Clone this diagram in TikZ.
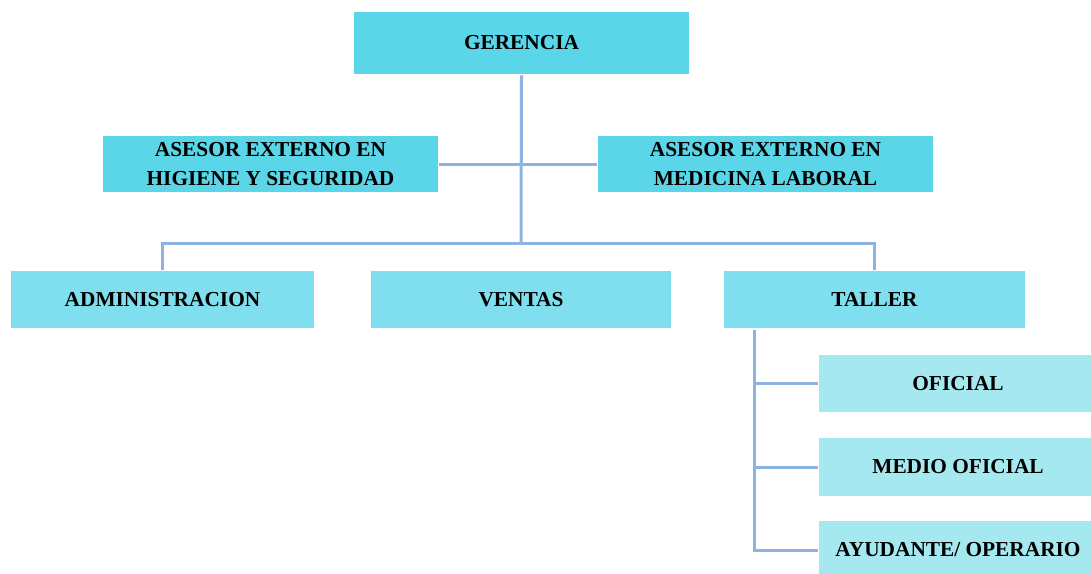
\documentclass[tikz,border=0pt]{standalone}
\usepackage{fontspec}
\setmainfont{Liberation Serif}
\usetikzlibrary{positioning}
\definecolor{topcyan}{HTML}{5BD5E8}
\definecolor{midcyan}{HTML}{80DFEE}
\definecolor{lowcyan}{HTML}{A6E8F0}
\definecolor{linkblue}{HTML}{8DB3E2}
\tikzset{
  orgbox/.style= {
    rectangle,
    draw = black!15,
    double = white,
    double distance = 1.2pt,
    fill = #1,
    align = center,
    font = \fontsize{16}{22}\selectfont\bfseries,
    inner sep = 0pt
  },
  link/.style= {
    draw = linkblue,
    line width = 2.25pt
  }
}

\begin{document}
\begin{tikzpicture}[x=0.75pt,y=-0.75pt]
  \useasboundingbox (0,0) rectangle (1091,574);

  \node[orgbox=topcyan,minimum width={337*0.75pt},minimum height={64*0.75pt}] (ger) at (521.5,43) {GERENCIA};

  \node[orgbox=topcyan,minimum width={337*0.75pt},minimum height={58*0.75pt}] (asl) at (270.5,164) {ASESOR EXTERNO EN\\HIGIENE Y SEGURIDAD};
  \node[orgbox=topcyan,minimum width={337*0.75pt},minimum height={58*0.75pt}] (asr) at (765.5,164) {ASESOR EXTERNO EN\\MEDICINA LABORAL};

  \node[orgbox=midcyan,minimum width={305*0.75pt},minimum height={59*0.75pt}] (adm) at (162.5,299.5) {ADMINISTRACION};
  \node[orgbox=midcyan,minimum width={302*0.75pt},minimum height={59*0.75pt}] (ven) at (521,299.5) {VENTAS};
  \node[orgbox=midcyan,minimum width={303*0.75pt},minimum height={59*0.75pt}] (tal) at (874.5,299.5) {TALLER};

  \node[orgbox=lowcyan,minimum width={280*0.75pt},minimum height={59*0.75pt}] (ofi) at (958,383.5) {OFICIAL};
  \node[orgbox=lowcyan,minimum width={280*0.75pt},minimum height={60*0.75pt}] (med) at (958,467) {MEDIO OFICIAL};
  \node[orgbox=lowcyan,minimum width={280*0.75pt},minimum height={60*0.75pt}] (ayu) at (958,550) {AYUDANTE/ OPERARIO};

  % lines
  \coordinate (bus) at (521,243);
  \coordinate (spine) at (754,330);
  \draw[link] (ger.south) -- (bus);
  \draw[link] (asl.east) -- (asr.west);
  \draw[link] (adm.north) |- (bus) -| (tal.north);
  \draw[link] (spine) |- (ayu.west);
  \draw[link] (spine |- ofi.west) -- (ofi.west);
  \draw[link] (spine |- med.west) -- (med.west);
\end{tikzpicture}
\end{document}
